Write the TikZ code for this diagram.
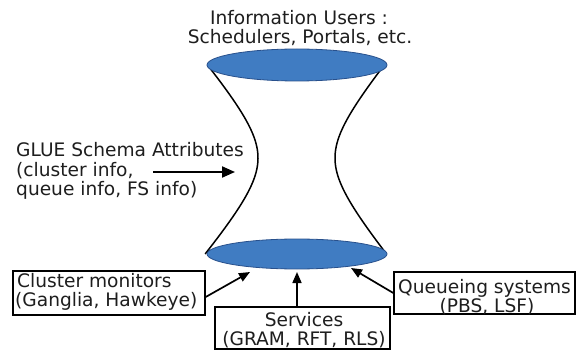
\documentclass[tikz,border=0pt]{standalone}
\usepackage{fontspec}
\setmainfont{DejaVu Sans}
\usetikzlibrary{shapes.geometric,arrows.meta}
\definecolor{discfill}{RGB}{64,124,194}
\definecolor{discedge}{RGB}{40,80,140}
\definecolor{ink}{RGB}{30,30,30}
\begin{document}
\begin{tikzpicture}[x=1pt,y=-1pt,
  txt/.style={inner sep=0pt, text=ink, font=\fontsize{18.6}{19}\selectfont},
  disc/.style={ellipse, draw=discedge, line width=0.8pt, fill=discfill, inner sep=0pt, minimum width=180pt},
  frame/.style={draw=black, line width=1.4pt, inner sep=0pt},
  link/.style={draw=black, line width=1.7pt, -{Triangle[length=11pt,width=9pt]}},
  biglink/.style={draw=black, line width=2pt, -{Triangle[length=13pt,width=11pt]}},
  waist/.style={draw=black, line width=1.5pt}]
\useasboundingbox (0,0) rectangle (576,350);
\fill[white] (0,0) rectangle (576,350);
% hyperboloid sides
\draw[waist] plot[domain=-93:96, samples=80, smooth] ({297-39*sqrt(1+(\x/45)^2)}, {158+\x});
\draw[waist] plot[domain=-93:96, samples=80, smooth] ({297+38*sqrt(1+(\x/45)^2)}, {158+\x});
% discs
\node[disc, minimum height=32pt] (top) at (297,65) {};
\node[disc, minimum height=30pt] (bot) at (297,254) {};
% top text
\node[txt, anchor=base] (iu1) at (299,25) {Information Users :};
\node[txt, anchor=base] (iu2) at (300,44) {Schedulers, Portals, etc.};
% GLUE text
\node[txt, anchor=base west] (g1) at (16,157) {GLUE Schema Attributes};
\node[txt, anchor=base west] (g2) at (16,177) {(cluster info,};
\node[txt, anchor=base west] (g3) at (16,196) {queue info, FS info)};
\coordinate (gA) at (153,172);
\coordinate (gB) at (235,172);
\draw[biglink] (gA) -- (gB);
% boxes
\node[frame, minimum width=192pt, minimum height=44pt] (cm) at (109,293) {};
\node[frame, minimum width=175pt, minimum height=42pt] (sv) at (302.5,328) {};
\node[frame, minimum width=181pt, minimum height=42pt] (qs) at (484.5,293) {};
\node[txt, anchor=base west] (cm1) at (17,287) {Cluster monitors};
\node[txt, anchor=base west] (cm2) at (15,306) {(Ganglia, Hawkeye)};
\node[txt, anchor=base] (sv1) at (304,326) {Services};
\node[txt, anchor=base] (sv2) at (304,345) {(GRAM, RFT, RLS)};
\node[txt, anchor=base west] (qs1) at (398,293) {Queueing systems};
\node[txt, anchor=base] (qs2) at (487,312) {(PBS, LSF)};
% connectors
\coordinate (cmEnd) at (250,272);
\draw[link] ([yshift=-4pt]cm.east) -- (cmEnd);
\coordinate (svEnd) at (297,272);
\draw[link] (sv.north -| svEnd) -- (svEnd);
\coordinate (qsEnd) at (351,268);
\draw[link] (qs.west) -- (qsEnd);
\end{tikzpicture}
\end{document}
